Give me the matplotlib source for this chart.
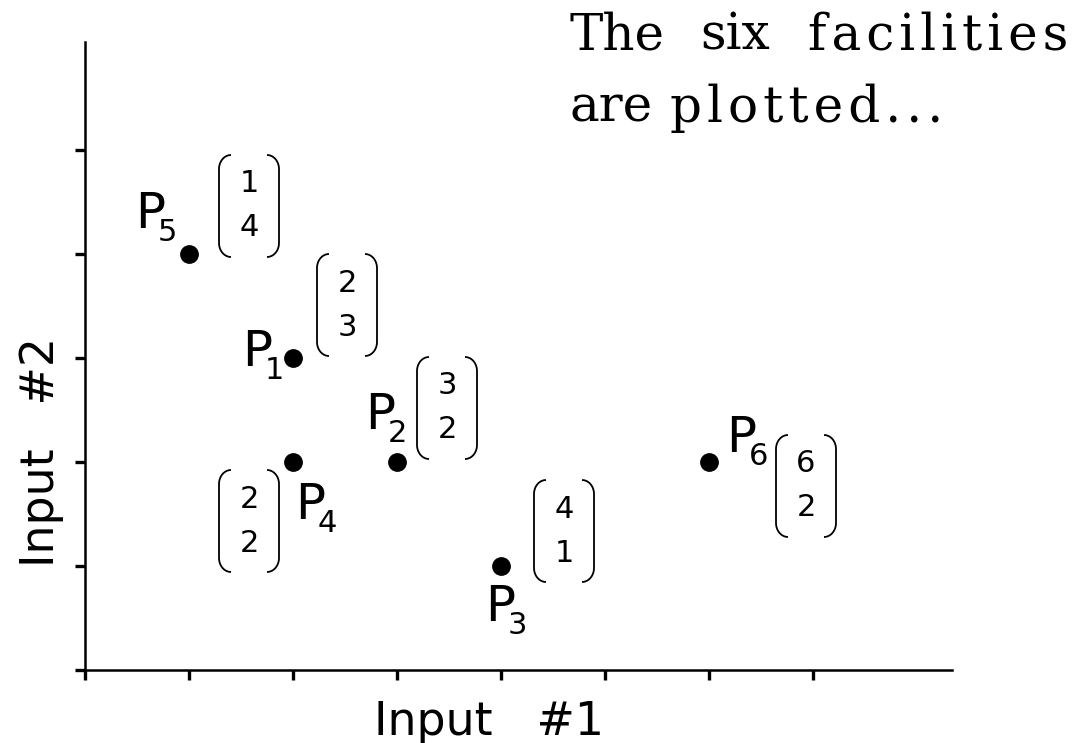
import numpy as np
import matplotlib
matplotlib.use("Agg")
import matplotlib.pyplot as plt
from matplotlib.path import Path
from matplotlib.patches import PathPatch
from matplotlib.transforms import Affine2D, ScaledTranslation

plt.rcParams["font.family"] = "DejaVu Sans"

# facilities: (input #1, input #2)
names = ["1", "2", "3", "4", "5", "6"]
input1 = [2, 3, 4, 2, 1, 6]
input2 = [3, 2, 1, 2, 4, 2]

x_ticks = [0, 1, 2, 3, 4, 5, 6, 7]
y_ticks = [0, 1, 2, 3, 4, 5]

# label placement, pixel offsets from each dot (right, down)
name_offsets = [(-51, 8), (-32, -33), (-16, 55), (2, 57), (-54, -26), (17, -10)]
vector_offsets = [(54, -53), (50, -54), (63, -35), (-44, 59), (60, -48), (97, 24)]

W, H = 1084, 743
fig = plt.figure(figsize=(W / 100, H / 100), dpi=100)
ax = fig.add_axes([85 / W, 73 / H, 867 / W, 628 / H])
ax.set_xlim(0, 867 / 104)
ax.set_ylim(0, 628 / 104)

for side in ["top", "right"]:
    ax.spines[side].set_visible(False)
for side in ["left", "bottom"]:
    ax.spines[side].set_linewidth(1.8)
ax.set_xticks(x_ticks)
ax.set_yticks(y_ticks)
ax.set_xticklabels([])
ax.set_yticklabels([])
ax.tick_params(direction="out", length=7.5, width=2.4)

ax.plot(input1, input2, "o", color="black", ms=12.5, clip_on=False)


def bracket_path(hw=30, hh=51, curl=12, r=14):
    # one "(" shape in pixels, centred on the vector
    t = np.linspace(0, np.pi / 2, 12)
    top = np.column_stack([-hw + curl - curl * np.sin(t), hh - r + r * np.cos(t)])
    bot = np.column_stack([-hw + curl - curl * np.sin(t[::-1]), -hh + r - r * np.cos(t[::-1])])
    left = np.vstack([top, bot])
    right = left * [-1, 1]
    return Path(left), Path(right)


left_p, right_p = bracket_path()


def px_note(text, x, y, dx, dy, size, **kw):
    ax.annotate(text, (x, y), xytext=(dx, -dy), textcoords="offset pixels",
                fontsize=size, **kw)


for n, x, y, no, vo in zip(names, input1, input2, name_offsets, vector_offsets):
    # P with its subscript
    px_note("P", x, y, no[0], no[1], 36, ha="left", va="baseline")
    px_note(n, x, y, no[0] + 23, no[1] + 13, 22, ha="left", va="baseline")
    # column vector (input1, input2)
    px_note(str(x), x, y, vo[0], vo[1] - 22, 22, ha="center", va="center")
    px_note(str(y), x, y, vo[0], vo[1] + 22, 22, ha="center", va="center")
    tr = Affine2D().translate(vo[0], -vo[1]) + ScaledTranslation(x, y, ax.transData)
    for p in (left_p, right_p):
        ax.add_artist(PathPatch(p, transform=tr, fill=False, lw=1.3,
                                edgecolor="black", clip_on=False))

fig.text(489 / W, 1 - 735 / H, "Input   #1", fontsize=33, ha="center", va="baseline")
fig.text(54 / W, 1 - 452 / H, "Input   #2", fontsize=33, rotation=90,
         ha="center", va="baseline", rotation_mode="anchor")

serif = dict(fontsize=36, family="DejaVu Serif", ha="left", va="baseline")
hair = "\u200a"
fig.text(570 / W, 1 - 50 / H, "The", **serif)
fig.text(700 / W, 1 - 50 / H, "six", **serif)
fig.text(808 / W, 1 - 50 / H, hair.join("facilities"), **serif)
fig.text(570 / W, 1 - 122 / H, "are", **serif)
fig.text(670 / W, 1 - 122 / H, hair.join("plotted..."), **serif)

fig.savefig("out.png", dpi=100)
